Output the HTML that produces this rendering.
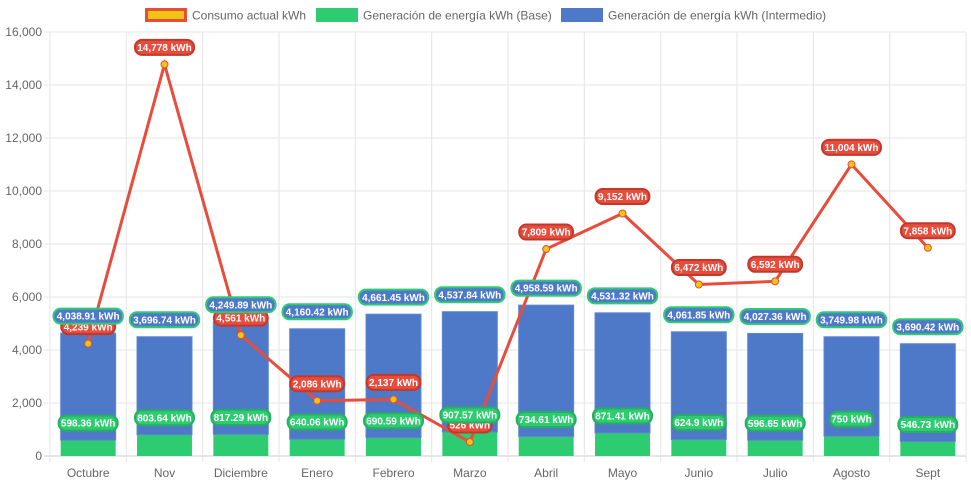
<!DOCTYPE html>
<html><head><meta charset="utf-8"><style>
body{margin:0;background:#fff;font-family:"Liberation Sans",Arial,sans-serif}
svg text{font-family:"Liberation Sans",Arial,sans-serif}
</style></head><body>
<svg id="c" width="971" height="485"></svg>
<script>
const categories=["Octubre","Nov","Diciembre","Enero","Febrero","Marzo","Abril","Mayo","Junio","Julio","Agosto","Sept"];
const consumo=[4239,14778,4561,2086,2137,526,7809,9152,6472,6592,11004,7858];
const baseGen=[598.36,803.64,817.29,640.06,690.59,907.57,734.61,871.41,624.9,596.65,750,546.73];
const interGen=[4038.91,3696.74,4249.89,4160.42,4661.45,4537.84,4958.59,4531.32,4061.85,4027.36,3749.98,3690.42];
const yTicks=[0,2000,4000,6000,8000,10000,12000,14000,16000];
const NS="http://www.w3.org/2000/svg";
const svg=document.getElementById('c');
const L=50,R=966,T=32,B=456,YMAX=16000;
const cw=(R-L)/categories.length;
const y=v=>B-(v/YMAX)*(B-T);
const xc=i=>L+cw*(i+0.5);
function el(t,a,p){const e=document.createElementNS(NS,t);for(const k in a)e.setAttribute(k,a[k]);(p||svg).appendChild(e);return e;}
function fmt(v){return v.toLocaleString('en-US',{maximumFractionDigits:2});}
yTicks.forEach(v=>{
 const g=el('line',{x1:L-6,x2:R,y1:y(v),y2:y(v),stroke:v===0?'#ccc':'#e5e5e5'});
 
 
 const t=el('text',{x:L-8,y:y(v)+4,'text-anchor':'end','font-size':12,fill:'#666'});
 t.textContent=fmt(v);
 
 
});
for(let i=0;i<=categories.length;i++){
 const g=el('line',{x1:L+cw*i,x2:L+cw*i,y1:T,y2:B+6,stroke:'#e5e5e5'});
 
 
}
categories.forEach((c,i)=>{
 const t=el('text',{x:xc(i),y:477,'text-anchor':'middle','font-size':12,fill:'#666'});
 t.textContent=c;
 
 
});
const bw=cw*0.72;
categories.forEach((c,i)=>{
 const b1=el('rect',{x:xc(i)-bw/2,y:y(baseGen[i]),width:bw,height:B-y(baseGen[i]),fill:'#2ecc71'});
 
 
 const top=baseGen[i]+interGen[i];
 const b2=el('rect',{x:xc(i)-bw/2,y:y(top),width:bw,height:y(baseGen[i])-y(top),fill:'#4e79c9',stroke:'#5f86d2','stroke-width':1});
 
 
});
const pts=consumo.map((v,i)=>xc(i)+','+y(v)).join(' ');
const ln=el('polyline',{points:pts,fill:'none',stroke:'#e74c3c','stroke-width':3});


consumo.forEach((v,i)=>{
 const p=el('circle',{cx:xc(i),cy:y(v),r:3.5,fill:'#f1c40f',stroke:'#e74c3c','stroke-width':1});
 
 
});
function label(x,yy,txt,bg,bd,name){
 const g=el('g',{});
 
 
 const w=txt.length*5.2+7;
 el('rect',{x:x-w/2,y:yy-7.5,width:w,height:15,rx:7,fill:bg,stroke:bd,'stroke-width':2},g);
 const t=el('text',{x:x,y:yy+3.6,'text-anchor':'middle','font-size':10,'font-weight':'bold',fill:'#fff'},g);
 t.textContent=txt;
}
consumo.forEach((v,i)=>label(xc(i),y(v)-17,fmt(v)+' kWh','#e74c3c','#c0392b','consumo-value-label'));
baseGen.forEach((v,i)=>label(xc(i),y(v)-17,fmt(v)+' kWh','#2ecc71','#27ae60','base-value-label'));
interGen.forEach((v,i)=>label(xc(i),y(v+baseGen[i])-17,fmt(v)+' kWh','#4e79c9','#2ecc71','intermedio-value-label'));
const leg=[{x:145,t:'Consumo actual kWh',f:'#f1c40f',s:'#e74c3c'},{x:316,t:'Generación de energía kWh (Base)',f:'#2ecc71',s:'#2ecc71'},{x:561,t:'Generación de energía kWh (Intermedio)',f:'#4e79c9',s:'#4e79c9'}];
leg.forEach(l=>{
 const g=el('g',{});
 
 
 el('rect',{x:l.x+1.5,y:9.5,width:39,height:11,fill:l.f,stroke:l.s,'stroke-width':3},g);
 const t=el('text',{x:l.x+47,y:19.5,'font-size':12,fill:'#666'},g);
 t.textContent=l.t;
});
</script>
</body></html>
